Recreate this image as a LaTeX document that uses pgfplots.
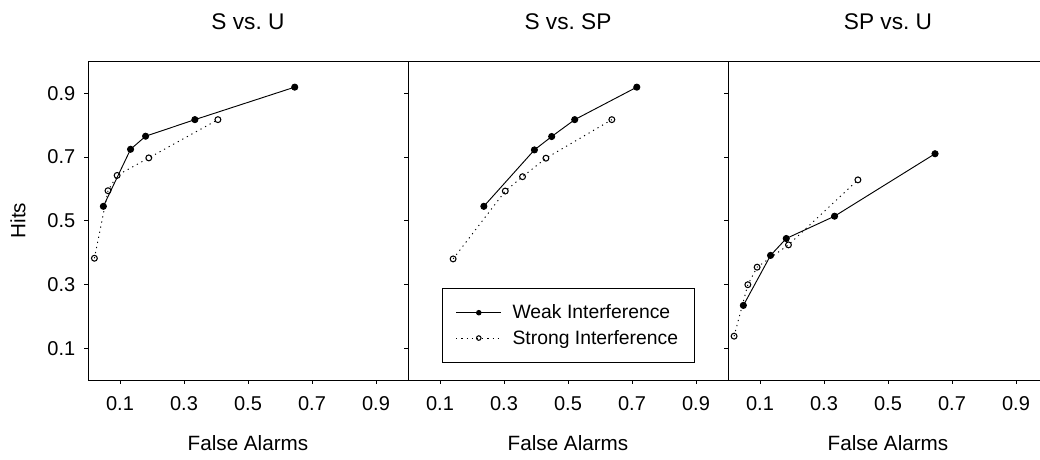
\documentclass[border=0pt]{standalone}
\usepackage{fontspec}
\setmainfont{Liberation Sans}
\usepackage{pgfplots}
\pgfplotsset{compat=1.18}
\begin{document}
\begin{tikzpicture}
\pgfplotsset{
  panel/.style={
    anchor=south west, width=240pt, height=239pt, scale only axis,
    xmin=0,xmax=1,ymin=0,ymax=1,
    xtick={0.1,0.3,0.5,0.7,0.9}, ytick={0.1,0.3,0.5,0.7,0.9},
    xticklabels={0.1,0.3,0.5,0.7,0.9},
    tick align=outside, major tick length=3pt,
    tick style={black,line width=0.6pt},
    xtick pos=bottom, ytick pos=left,
    axis line style={black,line width=0.7pt},
    /pgf/number format/assume math mode=true,
    tick label style={font=\fontsize{15}{18}\selectfont},
    xticklabel style={yshift=-6pt},
    yticklabel style={xshift=-3pt},
    label style={font=\fontsize{15.5}{18}\selectfont},
    title style={font=\fontsize{17}{20}\selectfont, at={(axis description cs:0.5,1.10)}, anchor=center},
    xlabel style={at={(axis description cs:0.5,-0.197)}, anchor=center},
    xlabel={False Alarms},
    clip=false,
  },
  weak/.style={black, line width=0.7pt, mark=*, mark size=2.3pt, mark options={solid, fill=black}},
  strong/.style={black, line width=0.7pt, dash pattern=on 0.9pt off 3pt, mark=o, mark size=2.2pt, mark options={solid, fill=white, line width=0.8pt}},
}
% Panel 1
\begin{axis}[panel, at={(66pt,60pt)}, title={S vs.\ U},
  yticklabels={0.1,0.3,0.5,0.7,0.9},
  ylabel={Hits}, ylabel style={at={(axis description cs:-0.219,0.5)}, anchor=center}]
\addplot[weak] coordinates {(0.048,0.545)(0.133,0.724)(0.180,0.765)(0.334,0.817)(0.646,0.919)};
\addplot[strong] coordinates {(0.020,0.382)(0.0625,0.594)(0.091,0.642)(0.190,0.697)(0.406,0.817)};
\end{axis}
% Panel 2
\begin{axis}[panel, at={(306pt,60pt)}, title={S vs.\ SP},
  yticklabels={},
  legend style={at={(axis cs:0.106,0.053)}, anchor=south west, draw=black, line width=0.6pt,
    font=\fontsize{14.5}{17}\selectfont, inner xsep=10pt, inner ysep=10.5pt, row sep=3pt, cells={anchor=west}},
  legend image code/.code={\draw[mark repeat=2,mark phase=2,#1,mark size=1.7pt] plot coordinates {(0pt,0pt)(17pt,0pt)(34pt,0pt)};}]
\addplot[weak] coordinates {(0.237,0.545)(0.395,0.722)(0.449,0.764)(0.521,0.817)(0.715,0.919)};
\addlegendentry{\hspace{6pt}Weak Interference}
\addplot[strong] coordinates {(0.141,0.380)(0.304,0.593)(0.358,0.638)(0.431,0.696)(0.637,0.817)};
\addlegendentry{\hspace{6pt}Strong Interference}
\end{axis}
% Panel 3
\begin{axis}[panel, at={(546pt,60pt)}, title={SP vs.\ U},
  yticklabels={}]
\addplot[weak] coordinates {(0.048,0.234)(0.133,0.391)(0.182,0.444)(0.333,0.514)(0.647,0.710)};
\addplot[strong] coordinates {(0.019,0.1375)(0.062,0.299)(0.091,0.354)(0.189,0.424)(0.406,0.628)};
\end{axis}
\pgfresetboundingbox
\path[use as bounding box] (0pt,0pt) rectangle (780pt,345pt);
\end{tikzpicture}
\end{document}
